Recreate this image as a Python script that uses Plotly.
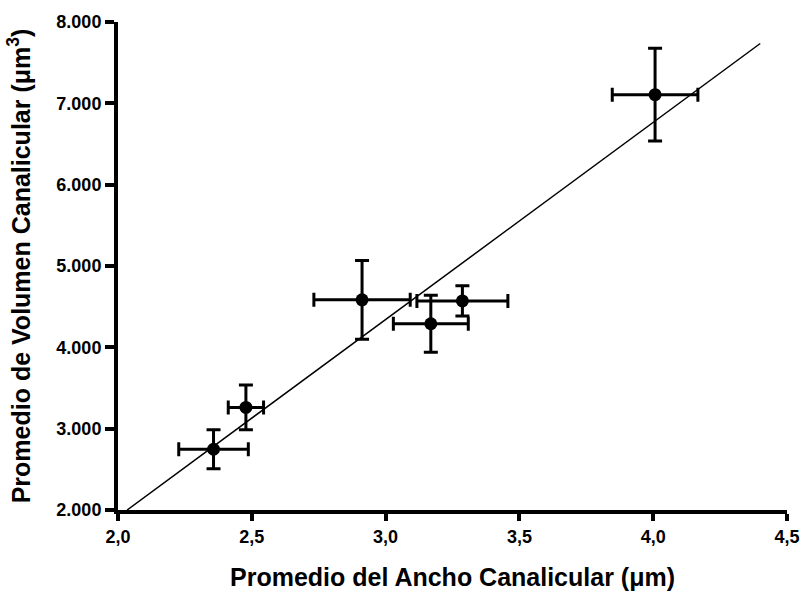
import numpy as np
import plotly.graph_objects as go

# Data
ancho = [2.357, 2.478, 2.912, 3.169, 3.287, 4.007]          # x, µm
ancho_err = [0.13, 0.066, 0.18, 0.14, 0.17, 0.16]
volumen = [2747, 3261, 4584, 4290, 4571, 7106]               # y, µm³
volumen_err = [240, 275, 485, 350, 185, 570]

x_ticks = [2.0, 2.5, 3.0, 3.5, 4.0, 4.5]
y_ticks = [2000, 3000, 4000, 5000, 6000, 7000, 8000]
line_x_end = 4.4
y_min, y_max = 2000, 8000

# Linear regression from data
slope, intercept = np.polyfit(ancho, volumen, 1)
x_start = (y_min - intercept) / slope
fit_x = np.array([x_start, line_x_end])
fit_y = slope * fit_x + intercept

fig = go.Figure()
fig.add_trace(go.Scatter(
    x=fit_x, y=fit_y, mode="lines",
    line=dict(color="black", width=1.5), showlegend=False, hoverinfo="skip"))
fig.add_trace(go.Scatter(
    x=ancho, y=volumen, mode="markers",
    marker=dict(color="black", size=13),
    error_x=dict(type="data", array=ancho_err, color="black", thickness=3, width=7),
    error_y=dict(type="data", array=volumen_err, color="black", thickness=3, width=7),
    showlegend=False))

font_family = "Liberation Sans, Arial, sans-serif"
fig.update_layout(
    width=812, height=601,
    margin=dict(l=118, r=14, t=20, b=91),
    plot_bgcolor="white", paper_bgcolor="white",
    separators=",.",
    font=dict(family=font_family, color="black"),
    xaxis=dict(
        range=[2.0, 4.5], tickvals=x_ticks, tickformat=".1f",
        showline=True, linewidth=4, linecolor="black",
        ticks="outside", ticklen=7, tickwidth=3.5, tickcolor="black",
        showgrid=False, zeroline=False,
        tickfont=dict(size=18, family=font_family, weight="bold"),
        title=dict(text="Promedio del Ancho Canalicular (μm)",
                   font=dict(size=25, family=font_family, weight="bold"),
                   standoff=24),
    ),
    yaxis=dict(
        range=[y_min, y_max], tickvals=y_ticks, tickformat=",d",
        showline=True, linewidth=4, linecolor="black",
        ticks="outside", ticklen=9, tickwidth=3.5, tickcolor="black",
        showgrid=False, zeroline=False,
        tickfont=dict(size=18, family=font_family, weight="bold"),
        title=dict(text="Promedio de Volumen Canalicular (μm<sup>3</sup>)",
                   font=dict(size=25, family=font_family, weight="bold"),
                   standoff=20),
    ),
)

fig.write_html("out.html")
